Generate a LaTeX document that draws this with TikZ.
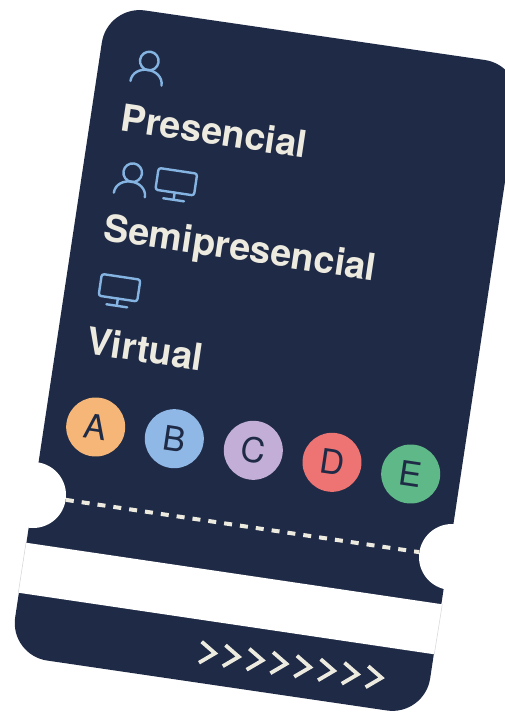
\documentclass[tikz,border=0pt]{standalone}
\usepackage{fontspec}
\setmainfont{TeX Gyre Heros}
\definecolor{navy}{HTML}{1F2B46}
\definecolor{cream}{HTML}{EDEAE0}
\definecolor{iconblue}{HTML}{85B4E3}
\definecolor{hair}{HTML}{D3D5D9}
\tikzset{
  cardangle/.style={rotate=-8.5},
  heading/.style={cardangle,anchor=base west,inner sep=0pt,text=cream,font=\fontsize{37.4}{40}\bfseries\selectfont},
  badge/.style={circle,minimum size=59pt,inner sep=0pt,cardangle,text=navy,font=\fontsize{34}{36}\selectfont},
  notch/.style={circle,fill=white,minimum size=66pt,inner sep=0pt},
  iconline/.style={draw=iconblue,line width=2.4pt,line cap=round,line join=round},
  chevron/.style={draw=cream,line width=3.8pt,line join=miter},
  perfline/.style={draw=cream,line width=4pt,dash pattern=on 8pt off 8pt},
}
\newcommand{\personicon}[2]{%
  \begin{scope}[shift={(#1,#2)},cardangle]
    \draw[iconline] (0,0) circle[radius=9.3pt];
    \draw[iconline] (-15.7,22.5) .. controls (-15.7,14) and (-8,9) .. (0,9) .. controls (8,9) and (15.7,14) .. (15.7,22.5);
  \end{scope}}
\newcommand{\monitoricon}[2]{%
  \begin{scope}[shift={(#1,#2)},cardangle]
    \draw[iconline,rounded corners=2.5pt] (-19.5,-11) -- (19.5,-11) -- (19.5,11) -- (-19.5,11) -- cycle;
    \draw[iconline] (0,11) -- (0,18.3);
    \draw[iconline] (-10.5,18.3) -- (10.5,18.3);
  \end{scope}}
\begin{document}
\begin{tikzpicture}[x=1pt,y=-1pt]
\clip (0,0) rectangle (505,712);
\fill[white] (0,0) rectangle (505,712);
% card
\fill[navy,rounded corners=38pt] (107.5,5) -- (522.5,65.5) -- (424.5,716) -- (9.5,655) -- cycle;
% white band
\fill[white] (26,542.7) -- (442.3,604.3) -- (434.3,654.3) -- (18.3,592.7) -- cycle;
\draw[hair,line width=0.5pt] (26,542.7) -- (18.3,592.7);
\draw[hair,line width=0.5pt] (442.3,604.3) -- (434.3,654.3);
% notches and perforation
\node[notch] (notchL) at (33,495) {};
\node[notch] (notchR) at (452,557) {};
\draw[perfline] (notchL) -- (notchR);
% icons
\personicon{149.3}{61}
\personicon{132.7}{172.7}
\monitoricon{176.3}{181.7}
\monitoricon{119.5}{287.7}
% headings
\node[heading] (presencial) at (119.5,130.5) {Presencial};
\node[heading] (semi) at (102.5,240) {Semipresencial};
\node[heading] (virtual) at (85,353.5) {Virtual};
% badges
\node[badge,fill={rgb,255:red,245;green,182;blue,120}] (a) at (95.7,427) {A};
\node[badge,fill={rgb,255:red,143;green,184;blue,230}] (b) at (174.3,438.7) {B};
\node[badge,fill={rgb,255:red,194;green,174;blue,214}] (c) at (253.3,450.3) {C};
\node[badge,fill={rgb,255:red,238;green,115;blue,115}] (d) at (332,462.3) {D};
\node[badge,fill={rgb,255:red,95;green,184;blue,136}] (e) at (410.7,474) {E};
% chevrons
\foreach \i in {0,...,7}{
  \draw[chevron] ({201.7+\i*23.8},{641.7+\i*3.5}) -- ({215+\i*23.8},{653.3+\i*3.5}) -- ({199+\i*23.8},{662.7+\i*3.5});
}
\end{tikzpicture}
\end{document}
